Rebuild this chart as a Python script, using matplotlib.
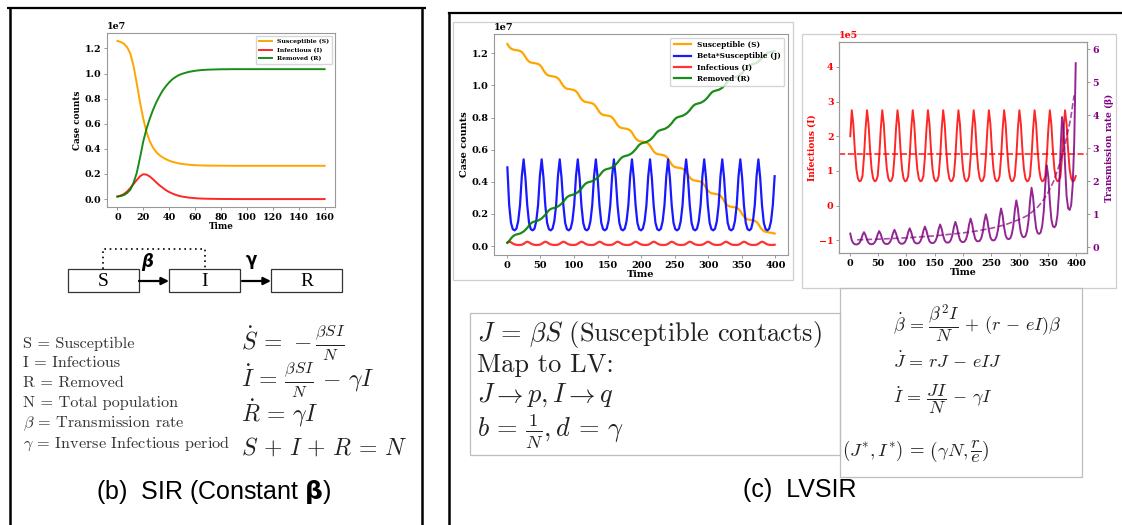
import numpy as np
import matplotlib
matplotlib.use("Agg")
import matplotlib.pyplot as plt
from matplotlib.patches import Rectangle

plt.rcParams['font.family'] = 'DejaVu Serif'
plt.rcParams['font.weight'] = 'bold'
plt.rcParams['axes.labelweight'] = 'bold'
plt.rcParams['mathtext.fontset'] = 'cm'

# ---------------- data: panel (b) SIR, constant beta (units 1e7) ----------------
sir_time = [0, 2.5, 5, 7.5, 10, 12.5, 15, 17.5, 20, 22.5, 25, 27.5, 30, 32.5, 35, 37.5, 40,
            42.5, 45, 47.5, 50, 55, 60, 65, 70, 80, 90, 100, 110, 120, 130, 140, 150, 160]
sir_S = [1.26, 1.252, 1.238, 1.21, 1.16, 1.06, 0.92, 0.77, 0.64, 0.535, 0.46, 0.41, 0.375, 0.35,
         0.332, 0.318, 0.306, 0.297, 0.29, 0.284, 0.28, 0.274, 0.27, 0.268, 0.267, 0.266, 0.265,
         0.265, 0.265, 0.265, 0.265, 0.265, 0.265, 0.265]
sir_I = [0.02, 0.028, 0.04, 0.06, 0.088, 0.12, 0.152, 0.182, 0.198, 0.195, 0.18, 0.158, 0.133,
         0.11, 0.09, 0.071, 0.056, 0.044, 0.034, 0.026, 0.02, 0.012, 0.007, 0.004, 0.0025, 0.001,
         0.0004, 0.0, 0.0, 0.0, 0.0, 0.0, 0.0, 0.0]
sir_R = [0.02, 0.024, 0.032, 0.048, 0.075, 0.13, 0.21, 0.33, 0.46, 0.56, 0.64, 0.71, 0.77, 0.82,
         0.865, 0.9, 0.93, 0.955, 0.973, 0.988, 0.998, 1.013, 1.022, 1.028, 1.031, 1.034, 1.035,
         1.035, 1.035, 1.035, 1.035, 1.035, 1.035, 1.035]

# ---------------- data: panel (c) LVSIR ----------------
time_c = np.round(0.8 + 2.69 * np.arange(149), 2)
# Susceptible (units 1e6)
lv_S = [12.58, 12.41, 12.30, 12.24, 12.22, 12.20, 12.18, 12.15, 12.08, 11.95,
        11.77, 11.60, 11.49, 11.43, 11.41, 11.39, 11.37, 11.34, 11.27, 11.14,
        10.95, 10.78, 10.67, 10.61, 10.59, 10.57, 10.55, 10.52, 10.45, 10.32,
        10.14, 9.97, 9.86, 9.80, 9.78, 9.76, 9.74, 9.71, 9.64, 9.51,
        9.32, 9.15, 9.04, 8.98, 8.96, 8.94, 8.92, 8.89, 8.82, 8.69,
        8.51, 8.34, 8.23, 8.17, 8.15, 8.13, 8.11, 8.08, 8.01, 7.88,
        7.70, 7.53, 7.42, 7.36, 7.34, 7.32, 7.30, 7.27, 7.20, 7.07,
        6.88, 6.71, 6.60, 6.54, 6.52, 6.50, 6.48, 6.45, 6.38, 6.25,
        6.07, 5.90, 5.79, 5.73, 5.71, 5.69, 5.67, 5.64, 5.57, 5.44,
        5.25, 5.08, 4.97, 4.91, 4.89, 4.87, 4.85, 4.82, 4.75, 4.62,
        4.44, 4.27, 4.16, 4.10, 4.08, 4.06, 4.04, 4.01, 3.94, 3.81,
        3.63, 3.46, 3.35, 3.29, 3.27, 3.25, 3.23, 3.20, 3.13, 3.00,
        2.81, 2.64, 2.53, 2.47, 2.45, 2.43, 2.41, 2.38, 2.31, 2.18,
        2.00, 1.83, 1.72, 1.66, 1.64, 1.62, 1.60, 1.57, 1.50, 1.37,
        1.18, 1.03, 0.94, 0.89, 0.87, 0.85, 0.83, 0.81, 0.78]
# Beta*Susceptible J (units 1e6)
lv_J = [4.90, 2.55, 1.45, 1.05, 0.98, 1.08, 1.55, 2.55, 4.35, 5.40,
        4.25, 2.55, 1.45, 1.05, 0.98, 1.08, 1.55, 2.55, 4.35, 5.40,
        4.25, 2.55, 1.45, 1.05, 0.98, 1.08, 1.55, 2.55, 4.35, 5.40,
        4.25, 2.55, 1.45, 1.05, 0.98, 1.08, 1.55, 2.55, 4.35, 5.40,
        4.25, 2.55, 1.45, 1.05, 0.98, 1.08, 1.55, 2.55, 4.35, 5.40,
        4.25, 2.55, 1.45, 1.05, 0.98, 1.08, 1.55, 2.55, 4.35, 5.40,
        4.25, 2.55, 1.45, 1.05, 0.98, 1.08, 1.55, 2.55, 4.35, 5.40,
        4.25, 2.55, 1.45, 1.05, 0.98, 1.08, 1.55, 2.55, 4.35, 5.40,
        4.25, 2.55, 1.45, 1.05, 0.98, 1.08, 1.55, 2.55, 4.35, 5.40,
        4.25, 2.55, 1.45, 1.05, 0.98, 1.08, 1.55, 2.55, 4.35, 5.40,
        4.25, 2.55, 1.45, 1.05, 0.98, 1.08, 1.55, 2.55, 4.35, 5.40,
        4.25, 2.55, 1.45, 1.05, 0.98, 1.08, 1.55, 2.55, 4.35, 5.40,
        4.25, 2.55, 1.45, 1.05, 0.98, 1.08, 1.55, 2.55, 4.35, 5.40,
        4.25, 2.55, 1.45, 1.05, 0.98, 1.08, 1.55, 2.55, 4.35, 5.40,
        4.25, 2.55, 1.45, 1.05, 0.98, 1.08, 1.55, 2.55, 4.35]
# Infectious I (units 1e5)
lv_I = [2.00, 2.75, 2.35, 1.60, 1.05, 0.78, 0.70, 0.72, 0.85, 1.40,
        2.20, 2.75, 2.35, 1.60, 1.05, 0.78, 0.70, 0.72, 0.85, 1.40,
        2.20, 2.75, 2.35, 1.60, 1.05, 0.78, 0.70, 0.72, 0.85, 1.40,
        2.20, 2.75, 2.35, 1.60, 1.05, 0.78, 0.70, 0.72, 0.85, 1.40,
        2.20, 2.75, 2.35, 1.60, 1.05, 0.78, 0.70, 0.72, 0.85, 1.40,
        2.20, 2.75, 2.35, 1.60, 1.05, 0.78, 0.70, 0.72, 0.85, 1.40,
        2.20, 2.75, 2.35, 1.60, 1.05, 0.78, 0.70, 0.72, 0.85, 1.40,
        2.20, 2.75, 2.35, 1.60, 1.05, 0.78, 0.70, 0.72, 0.85, 1.40,
        2.20, 2.75, 2.35, 1.60, 1.05, 0.78, 0.70, 0.72, 0.85, 1.40,
        2.20, 2.75, 2.35, 1.60, 1.05, 0.78, 0.70, 0.72, 0.85, 1.40,
        2.20, 2.75, 2.35, 1.60, 1.05, 0.78, 0.70, 0.72, 0.85, 1.40,
        2.20, 2.75, 2.35, 1.60, 1.05, 0.78, 0.70, 0.72, 0.85, 1.40,
        2.20, 2.75, 2.35, 1.60, 1.05, 0.78, 0.70, 0.72, 0.85, 1.40,
        2.20, 2.75, 2.35, 1.60, 1.05, 0.78, 0.70, 0.72, 0.85, 1.40,
        2.20, 2.75, 2.35, 1.60, 1.05, 0.78, 0.70, 0.72, 0.85]
# Removed R (units 1e6)
lv_R = [0.22, 0.32, 0.47, 0.60, 0.68, 0.72, 0.75, 0.78, 0.84, 0.91,
        1.01, 1.13, 1.28, 1.41, 1.49, 1.53, 1.56, 1.59, 1.65, 1.72,
        1.83, 1.95, 2.10, 2.23, 2.31, 2.35, 2.38, 2.41, 2.47, 2.54,
        2.64, 2.76, 2.91, 3.04, 3.12, 3.16, 3.19, 3.22, 3.28, 3.35,
        3.46, 3.58, 3.73, 3.86, 3.94, 3.98, 4.01, 4.04, 4.10, 4.17,
        4.27, 4.39, 4.54, 4.67, 4.75, 4.79, 4.82, 4.85, 4.91, 4.98,
        5.08, 5.20, 5.35, 5.48, 5.56, 5.60, 5.63, 5.66, 5.72, 5.79,
        5.90, 6.02, 6.17, 6.30, 6.38, 6.42, 6.45, 6.48, 6.54, 6.61,
        6.71, 6.83, 6.98, 7.11, 7.19, 7.23, 7.26, 7.29, 7.35, 7.42,
        7.53, 7.65, 7.80, 7.93, 8.01, 8.05, 8.08, 8.11, 8.17, 8.24,
        8.34, 8.46, 8.61, 8.74, 8.82, 8.86, 8.89, 8.92, 8.98, 9.05,
        9.15, 9.27, 9.42, 9.55, 9.63, 9.67, 9.70, 9.73, 9.79, 9.86,
        9.97, 10.09, 10.24, 10.37, 10.45, 10.49, 10.52, 10.55, 10.61, 10.68,
        10.78, 10.90, 11.05, 11.18, 11.26, 11.30, 11.33, 11.36, 11.42, 11.49,
        11.60, 11.70, 11.83, 11.95, 12.03, 12.07, 12.10, 12.12, 12.14]
# Transmission rate beta
lv_beta = [0.410, 0.205, 0.118, 0.086, 0.080, 0.089, 0.127, 0.210, 0.360, 0.452,
           0.361, 0.220, 0.126, 0.092, 0.086, 0.095, 0.136, 0.225, 0.386, 0.485,
           0.388, 0.237, 0.136, 0.099, 0.093, 0.102, 0.147, 0.242, 0.416, 0.523,
           0.419, 0.256, 0.147, 0.107, 0.100, 0.111, 0.159, 0.263, 0.451, 0.568,
           0.456, 0.279, 0.160, 0.117, 0.109, 0.121, 0.174, 0.287, 0.493, 0.621,
           0.499, 0.306, 0.176, 0.129, 0.120, 0.133, 0.191, 0.316, 0.543, 0.685,
           0.552, 0.339, 0.195, 0.143, 0.134, 0.148, 0.212, 0.351, 0.604, 0.764,
           0.618, 0.380, 0.220, 0.161, 0.150, 0.166, 0.239, 0.395, 0.682, 0.864,
           0.700, 0.432, 0.250, 0.183, 0.172, 0.190, 0.273, 0.452, 0.781, 0.993,
           0.810, 0.502, 0.292, 0.214, 0.200, 0.222, 0.320, 0.529, 0.916, 1.169,
           0.957, 0.597, 0.349, 0.256, 0.240, 0.266, 0.384, 0.636, 1.104, 1.417,
           1.171, 0.737, 0.433, 0.319, 0.300, 0.332, 0.480, 0.797, 1.390, 1.800,
           1.512, 0.966, 0.573, 0.425, 0.400, 0.444, 0.643, 1.071, 1.883, 2.477,
           2.125, 1.393, 0.843, 0.633, 0.598, 0.667, 0.969, 1.624, 2.900, 3.942,
           3.602, 2.476, 1.543, 1.180, 1.126, 1.271, 1.867, 3.148, 5.577]
# equilibrium trend of beta (dashed)
beta_eq_time = [13, 50, 100, 150, 200, 225, 250, 275, 300, 315, 330, 340, 350, 360, 370, 380, 390, 396]
beta_eq = [0.22, 0.24, 0.28, 0.34, 0.43, 0.49, 0.57, 0.68, 0.84, 0.97, 1.18, 1.38, 1.65, 2.0,
           2.5, 3.1, 3.9, 4.6]
I_star = 1.5  # r/e, units 1e5

S_lab = 'Susceptible (S)'
J_lab = 'Beta*Susceptible (J)'
I_lab = 'Infectious (I)'
R_lab = 'Removed (R)'

W, H = 1122, 525
fig = plt.figure(figsize=(W / 100, H / 100), dpi=100)
fig.patch.set_facecolor('white')


def px_axes(x0, y0, x1, y1, **kw):
    return fig.add_axes([x0 / W, 1 - y1 / H, (x1 - x0) / W, (y1 - y0) / H], **kw)


def style(ax, fs):
    for sp in ax.spines.values():
        sp.set_color('#999999')
        sp.set_linewidth(0.8)
    ax.tick_params(labelsize=fs, length=2.5, width=0.6, color='#888888', pad=1.5)
    ax.yaxis.get_offset_text().set_fontsize(fs)
    ax.yaxis.get_offset_text().set_fontweight('bold')


# overlay for frames / diagram / text
ov = fig.add_axes([0, 0, 1, 1], zorder=-5)
ov.set_xlim(0, W)
ov.set_ylim(H, 0)
ov.axis('off')

# panel frames
ov.plot([7, 426], [8, 8], color='black', lw=1.6, solid_capstyle='butt')
ov.plot([10.5, 10.5], [8, H], color='black', lw=1.8)
ov.plot([422, 422], [8, H], color='black', lw=1.8)
ov.plot([449.5, W], [12.5, 12.5], color='black', lw=1.6)
ov.plot([449.5, 449.5], [12.5, H], color='black', lw=1.8)

# plot-image frames in (c)
ov.add_patch(Rectangle((453, 22), 340, 258, fill=False, ec='#cfcfcf', lw=0.9))
ov.add_patch(Rectangle((802, 34), 314, 254, fill=False, ec='#cfcfcf', lw=0.9))
# text boxes in (c)
ov.add_patch(Rectangle((470, 313), 370, 142, fill=False, ec='#bdbdbd', lw=0.9))
ov.add_patch(Rectangle((840, 288), 242, 189, fill=False, ec='#bdbdbd', lw=0.9))

# SIR diagram
for (x0, lab) in [(68, 'S'), (169, 'I'), (271, 'R')]:
    ov.add_patch(Rectangle((x0, 269), 71, 23, fill=False, ec='#333333', lw=0.9))
    ov.text(x0 + 35.5, 281.5, lab, ha='center', va='center', fontsize=14,
            family='Liberation Serif', weight='normal')
for xa, xb in [(139, 169), (242, 271)]:
    ov.annotate('', xy=(xb, 281), xytext=(xa, 281),
                arrowprops=dict(arrowstyle='-|>', lw=1.6, color='black',
                                mutation_scale=11, shrinkA=0, shrinkB=0))
ov.text(148, 262, r'$\boldsymbol{\beta}$', ha='center', va='center', fontsize=12,
        math_fontfamily='dejavusans')
ov.text(252, 262, r'$\mathbf{\gamma}$', ha='center', va='center', fontsize=12,
        math_fontfamily='dejavusans')
ov.plot([103, 103, 205, 205], [269, 249, 249, 269], color='black', lw=1.2, ls=(0, (1, 2.2)))

# SIR definitions
defs = ['S = Susceptible', 'I = Infectious', 'R = Removed', 'N = Total population',
        r'$\beta$ = Transmission rate', r'$\gamma$ = Inverse Infectious period']
for k, s in enumerate(defs):
    ov.text(23, 343.5 + 20 * k, s, ha='left', va='center', fontsize=11.7, family='cmr10',
            weight='normal', color='#333333', math_fontfamily='cm')
eqs_b = [(343, r'$\dot{S}\,=\,-\frac{\beta SI}{N}$'),
         (380, r'$\dot{I}\,=\,\frac{\beta SI}{N}\,-\,\gamma I$'),
         (413, r'$\dot{R}\,=\,\gamma I$'),
         (448, r'$S\,+\,I\,+\,R\,=\,N$')]
for y, s in eqs_b:
    ov.text(241, y, s, ha='left', va='center', fontsize=17, color='#222222', math_fontfamily='cm')
ov.text(214, 492, r'(b)  SIR (Constant $\mathbf{\beta}$)', ha='center', va='center',
        fontsize=18, family='Liberation Sans', weight='normal', math_fontfamily='dejavusans')

# LVSIR texts
box1 = [(334, r'$J\,=\,\beta S$ (Susceptible contacts)'), (365, 'Map to LV:'),
        (395, r'$J \rightarrow p, I \rightarrow q$'), (432, r'$b\,=\,\frac{1}{N}, d\,=\,\gamma$')]
for y, s in box1:
    ov.text(477, y, s, ha='left', va='center', fontsize=19, family='cmr10',
            weight='normal', color='#222222', math_fontfamily='cm')
eqs_c = [(324, r'$\dot{\beta}\,=\,\dfrac{\beta^2 I}{N}\,+\,(r\,-\,eI)\beta$'),
         (362, r'$\dot{J}\,=\,rJ\,-\,eIJ$'),
         (399, r'$\dot{I}\,=\,\dfrac{JI}{N}\,-\,\gamma I$')]
for y, s in eqs_c:
    ov.text(893, y, s, ha='left', va='center', fontsize=13, color='#222222', math_fontfamily='cm')
ov.text(842, 452, r'$(J^{*}, I^{*})\,=\,\left(\gamma N, \dfrac{r}{e}\right)$', ha='left',
        va='center', fontsize=13.5, color='#222222', math_fontfamily='cm')
ov.text(800, 490, '(c)  LVSIR', ha='center', va='center', fontsize=18,
        family='Liberation Sans', weight='normal')

# ---------------- plot (b) ----------------
axb = px_axes(107, 33, 335, 207)
axb.plot(sir_time, np.array(sir_S) * 1e7, color='orange', lw=1.4, label=S_lab)
axb.plot(sir_time, np.array(sir_I) * 1e7, color='red', lw=1.4, alpha=0.85, label=I_lab)
axb.plot(sir_time, np.array(sir_R) * 1e7, color='green', lw=1.4, alpha=0.9, label=R_lab)
axb.set_xticks([0, 20, 40, 60, 80, 100, 120, 140, 160])
style(axb, 6.8)
axb.set_xlabel('Time', fontsize=6.3, labelpad=0)
axb.set_ylabel('Case counts', fontsize=6.3, labelpad=2)
axb.legend(loc='upper right', fontsize=4.4, handlelength=2.2, labelspacing=0.55,
           borderpad=0.45, framealpha=0.8, edgecolor='#cccccc')

# ---------------- plot (c) left ----------------
axc1 = px_axes(494, 34, 788, 255)
axc1.plot(time_c, np.array(lv_S) * 1e6, color='orange', lw=1.6, label=S_lab)
axc1.plot(time_c, np.array(lv_J) * 1e6, color='blue', lw=1.6, alpha=0.9, label=J_lab)
axc1.plot(time_c, np.array(lv_I) * 1e5, color='red', lw=1.6, alpha=0.8, label=I_lab)
axc1.plot(time_c, np.array(lv_R) * 1e6, color='green', lw=1.6, alpha=0.9, label=R_lab)
axc1.set_xticks([0, 50, 100, 150, 200, 250, 300, 350, 400])
style(axc1, 7)
axc1.set_xlabel('Time', fontsize=7, labelpad=0)
axc1.set_ylabel('Case counts', fontsize=7, labelpad=2)
axc1.legend(loc='upper right', fontsize=5.3, handlelength=2.4, labelspacing=0.45,
            borderpad=0.45, framealpha=0.8, edgecolor='#cccccc')

# ---------------- plot (c) right ----------------
axc2 = px_axes(839, 42, 1087, 253)
axc2.plot(time_c, np.array(lv_I) * 1e5, color='red', lw=1.4, alpha=0.85)
axc2.axhline(I_star * 1e5, color='red', lw=1.2, ls='--', alpha=0.85)
axc2.set_ylim(-1.37e5, 4.72e5)
axc2.ticklabel_format(style='sci', axis='y', scilimits=(0, 0))
axc2.set_xticks([0, 50, 100, 150, 200, 250, 300, 350, 400])
style(axc2, 6.8)
axc2.tick_params(axis='y', colors='red')
axc2.tick_params(axis='y', color='#888888')
axc2.yaxis.get_offset_text().set_color('red')
axc2.set_xlabel('Time', fontsize=6.8, labelpad=0)
axc2.set_ylabel('Infectious (I)', fontsize=6.5, color='red', labelpad=2)

axc3 = axc2.twinx()
axc3.plot(time_c, lv_beta, color='purple', lw=1.4, alpha=0.85)
axc3.plot(beta_eq_time, beta_eq, color='purple', lw=1.2, ls='--', alpha=0.7)
axc3.set_ylim(-0.18, 6.22)
axc3.set_yticks([0, 1, 2, 3, 4, 5, 6])
style(axc3, 6.8)
axc3.tick_params(axis='y', labelcolor='purple')
axc3.set_ylabel(r'Transmission rate ($\mathbf{\beta}$)', fontsize=6.5, color='purple',
                labelpad=2, math_fontfamily='dejavuserif')

fig.savefig('out.png', dpi=100, facecolor='white')
